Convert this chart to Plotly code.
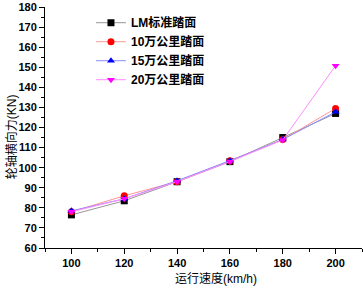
import plotly.graph_objects as go

speeds = [100, 120, 140, 160, 180, 200]
lm_std = [76.5, 83.5, 93.0, 103.0, 115.0, 127.0]
km10 = [78.0, 86.0, 93.0, 103.5, 114.0, 129.5]
km15 = [78.5, 84.5, 93.5, 103.5, 114.0, 127.8]
km20 = [78.0, 84.5, 93.0, 103.0, 113.8, 150.8]
names = ["LM标准踏面", "10万公里踏面", "15万公里踏面", "20万公里踏面"]
xticks = [100, 120, 140, 160, 180, 200]

FONT = "Arial, 'Liberation Sans', 'Noto Sans CJK SC', sans-serif"

series = [
    (lm_std, names[0], "rgb(150,150,150)", "black", "square"),
    (km10, names[1], "rgb(255,150,150)", "red", "circle"),
    (km15, names[2], "rgb(140,140,255)", "blue", "triangle-up"),
    (km20, names[3], "rgb(255,140,255)", "magenta", "triangle-down"),
]

fig = go.Figure()
for ys, nm, lc, mc, sym in series:
    fig.add_trace(go.Scatter(
        x=speeds, y=ys, name=nm, mode="lines+markers",
        line=dict(color=lc, width=1),
        marker=dict(color=mc, symbol=sym, size=7),
    ))

fig.update_layout(
    width=363, height=290,
    margin=dict(l=45, r=1, t=7, b=42, autoexpand=False),
    paper_bgcolor="white", plot_bgcolor="white",
    font=dict(family=FONT, size=11, color="black"),
    showlegend=True,
    legend=dict(
        x=0.145, y=0.995, xanchor="left", yanchor="top",
        bgcolor="rgba(0,0,0,0)", borderwidth=0,
        font=dict(family=FONT, size=12, color="black", weight="bold"),
        tracegroupgap=0, itemwidth=30,
    ),
    xaxis=dict(
        range=[90, 210], tickvals=xticks, ticktext=[str(v) for v in xticks],
        showline=True, linecolor="black", linewidth=1, mirror=False,
        showgrid=False, zeroline=False, automargin=False,
        ticks="outside", ticklen=5, tickcolor="black",
        tickfont=dict(family=FONT, size=11, weight="bold"),
        minor=dict(dtick=10, tick0=90, ticks="outside", ticklen=3, tickcolor="black", showgrid=False),
    ),
    yaxis=dict(
        range=[60, 180], dtick=10, tick0=60,
        showline=True, linecolor="black", linewidth=1, mirror=False,
        showgrid=False, zeroline=False, automargin=False,
        ticks="outside", ticklen=5, tickcolor="black",
        tickfont=dict(family=FONT, size=11, weight="bold"),
        minor=dict(dtick=5, tick0=60, ticks="outside", ticklen=3, tickcolor="black", showgrid=False),
    ),
    annotations=[
        dict(text="运行速度(km/h)", xref="paper", yref="paper", x=0.54, y=-0.125,
             xanchor="center", yanchor="middle", showarrow=False,
             font=dict(family=FONT, size=12, color="black")),
        dict(text="轮轴横向力(KN)", xref="paper", yref="paper", x=-0.107, y=0.46,
             xanchor="center", yanchor="middle", showarrow=False, textangle=-90,
             font=dict(family=FONT, size=12, color="black")),
    ],
)

fig.write_html("out.html",
               config={"displayModeBar": False},
               post_script="document.body.style.margin='0';document.body.style.overflow='hidden';")
